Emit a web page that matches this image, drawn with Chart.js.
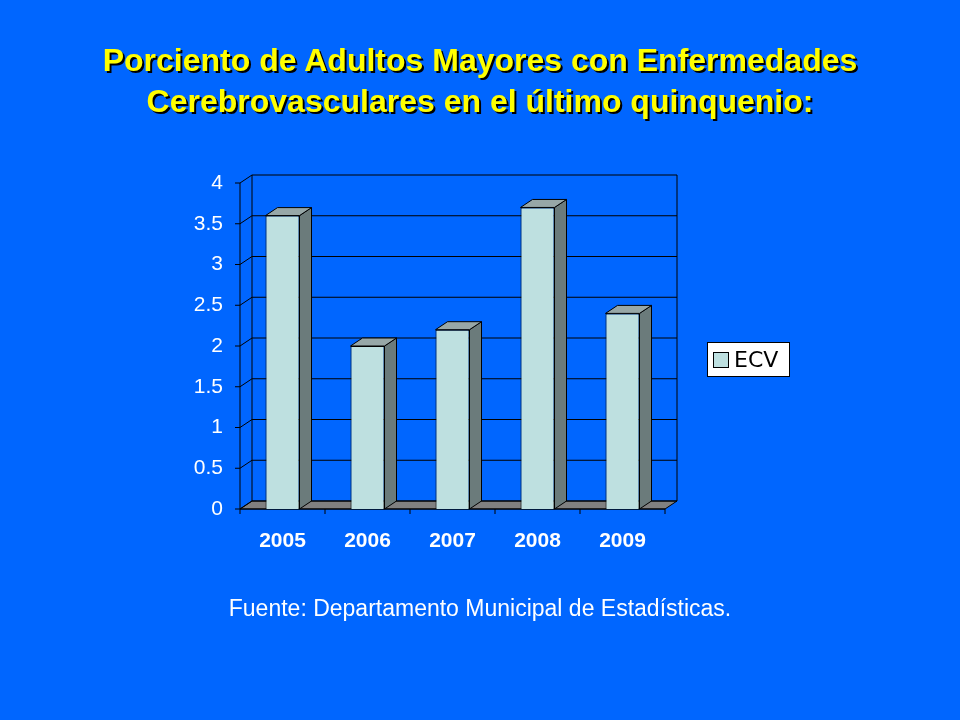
<!DOCTYPE html>
<html>
<head>
<meta charset="utf-8">
<script src="https://cdn.jsdelivr.net/npm/chart.js@4"></script>
<style>
  body { margin: 0; background: #0066ff; }
  #wrap { position: relative; width: 960px; height: 720px; }
  #title { position: absolute; top: 40px; left: 0; width: 960px; text-align: center;
    font: bold 32px "Liberation Sans", Arial, sans-serif; color: #ffff00; line-height: 41px;
    text-shadow: 2px 2px 0 #000; }
  #source { position: absolute; top: 595px; left: 0; width: 960px; text-align: center;
    font: 23px "Liberation Sans", Arial, sans-serif; color: #fff; }
  canvas { position: absolute; left: 0; top: 0; }
</style>
</head>
<body>
<div id="wrap">
  <canvas id="chart" width="960" height="720"></canvas>
  <div id="title">Porciento de Adultos Mayores con Enfermedades<br>Cerebrovasculares en el último quinquenio:</div>
  <div id="source">Fuente: Departamento Municipal de Estadísticas.</div>
</div>
<script>
const years = ['2005', '2006', '2007', '2008', '2009'];
const ecvValues = [3.6, 2.0, 2.2, 3.7, 2.4];
const seriesName = 'ECV';

const DX = 12, DY = -8;

// back wall, floor, depth lines
const wallPlugin = {
  id: 'wall',
  beforeDatasetsDraw(chart) {
    const { ctx, chartArea: a, scales: { y } } = chart;
    ctx.save();
    ctx.strokeStyle = '#000';
    ctx.lineWidth = 1;
    // floor
    ctx.fillStyle = '#808080';
    ctx.beginPath();
    ctx.moveTo(a.left, a.bottom);
    ctx.lineTo(a.right, a.bottom);
    ctx.lineTo(a.right + DX, a.bottom + DY);
    ctx.lineTo(a.left + DX, a.bottom + DY);
    ctx.closePath();
    ctx.fill();
    ctx.stroke();
    // gridlines on back wall + left wall
    y.ticks.forEach(t => {
      const py = y.getPixelForValue(t.value);
      ctx.beginPath();
      ctx.moveTo(a.left, py);
      ctx.lineTo(a.left + DX, py + DY);
      ctx.lineTo(a.right + DX, py + DY);
      ctx.stroke();
      ctx.beginPath();
      ctx.moveTo(a.left - 5, py);
      ctx.lineTo(a.left, py);
      ctx.stroke();
    });
    ctx.beginPath();
    ctx.moveTo(a.left + DX, a.top + DY);
    ctx.lineTo(a.left + DX, a.bottom + DY);
    ctx.moveTo(a.right + DX, a.top + DY);
    ctx.lineTo(a.right + DX, a.bottom + DY);
    ctx.moveTo(a.left, a.top);
    ctx.lineTo(a.left, a.bottom);
    ctx.lineTo(a.right, a.bottom);
    ctx.stroke();
    // x category ticks
    const step = (a.right - a.left) / years.length;
    for (let i = 0; i <= years.length; i++) {
      const px = a.left + i * step;
      ctx.beginPath();
      ctx.moveTo(px, a.bottom);
      ctx.lineTo(px, a.bottom + 5);
      ctx.stroke();
    }
    ctx.restore();
  },
  afterDatasetsDraw(chart) {
    const { ctx } = chart;
    ctx.save();
    ctx.strokeStyle = '#000';
    ctx.lineWidth = 1;
    chart.getDatasetMeta(0).data.forEach(bar => {
      const l = bar.x - bar.width / 2, r = bar.x + bar.width / 2;
      const t = bar.y, b = bar.base;
      ctx.fillStyle = '#6b7b7b';
      ctx.beginPath();
      ctx.moveTo(r, t); ctx.lineTo(r + DX, t + DY); ctx.lineTo(r + DX, b + DY); ctx.lineTo(r, b);
      ctx.closePath(); ctx.fill(); ctx.stroke();
      ctx.fillStyle = '#97a7a7';
      ctx.beginPath();
      ctx.moveTo(l, t); ctx.lineTo(l + DX, t + DY); ctx.lineTo(r + DX, t + DY); ctx.lineTo(r, t);
      ctx.closePath(); ctx.fill(); ctx.stroke();
    });
    // legend
    ctx.fillStyle = '#ffffff';
    ctx.fillRect(707, 342, 82, 34);
    ctx.strokeRect(707.5, 342.5, 82, 34);
    ctx.fillStyle = '#bee0e0';
    ctx.fillRect(713, 352, 15, 15);
    ctx.strokeRect(713.5, 352.5, 15, 15);
    ctx.fillStyle = '#000';
    ctx.font = '22px "DejaVu Sans", sans-serif';
    ctx.textBaseline = 'middle';
    ctx.fillText(seriesName, 734, 361);
    ctx.restore();
  }
};

new Chart(document.getElementById('chart'), {
  type: 'bar',
  data: {
    labels: years,
    datasets: [{
      label: seriesName,
      data: ecvValues,
      backgroundColor: '#bee0e0',
      borderColor: '#000',
      borderWidth: 1,
      barPercentage: 0.4,
      categoryPercentage: 1
    }]
  },
  options: {
    responsive: false,
    animation: false,
    layout: { padding: { top: 183, right: 295, left: 0, bottom: 0 } },
    plugins: { legend: { display: false }, tooltip: { enabled: false } },
    scales: {
      x: {
        grid: { display: false },
        border: { display: false },
        ticks: { color: '#fff', font: { family: '"Liberation Sans", Arial, sans-serif', size: 21, weight: 'bold' }, padding: 12 },
        afterFit(s) { s.height = 211; }
      },
      y: {
        min: 0, max: 4,
        grid: { display: false },
        border: { display: false },
        ticks: { stepSize: 0.5, color: '#fff', padding: 9,
          callback: v => String(v),
          font: { family: '"Liberation Sans", Arial, sans-serif', size: 21 } },
        afterFit(s) { s.width = 240; }
      }
    }
  },
  plugins: [wallPlugin]
});
</script>
</body>
</html>
